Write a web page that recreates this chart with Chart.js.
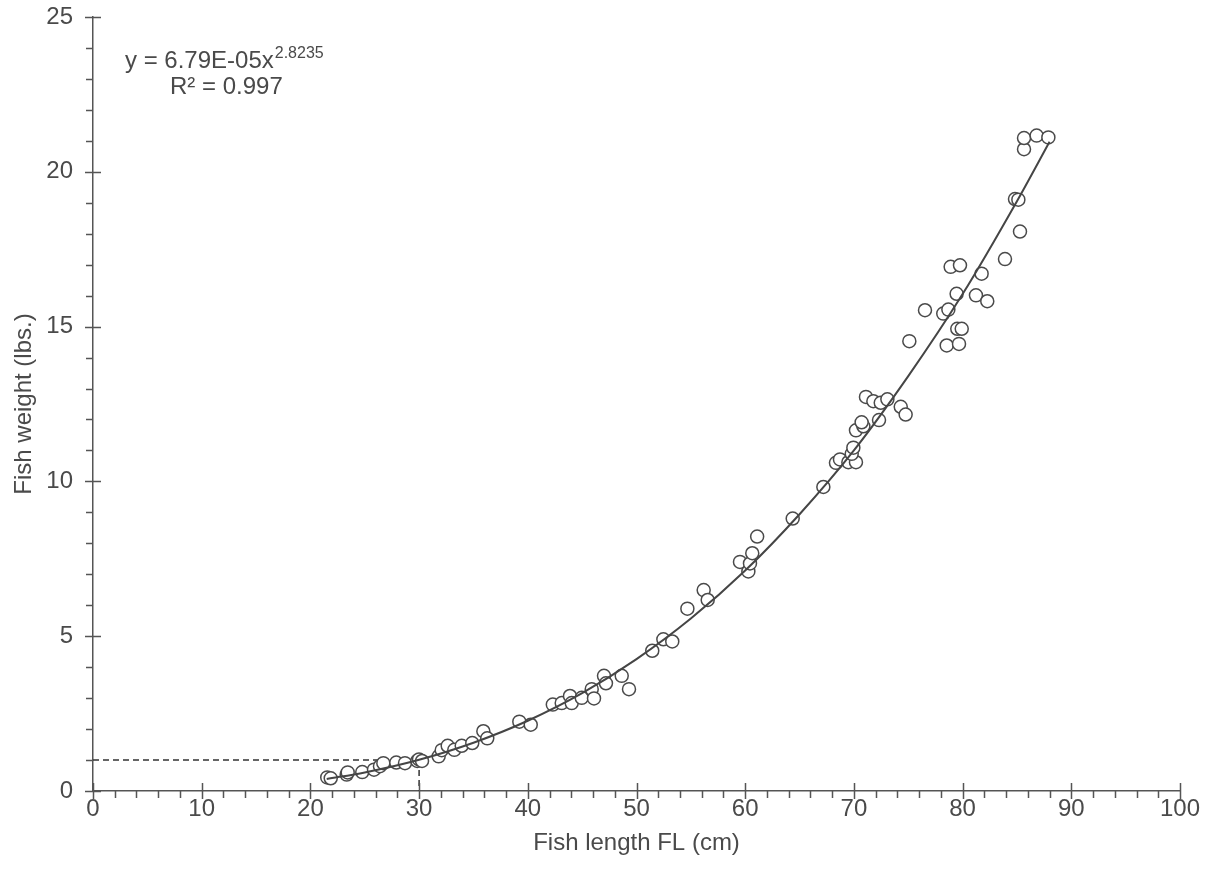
<!DOCTYPE html>
<html>
<head>
<meta charset="utf-8">
<script src="https://cdn.jsdelivr.net/npm/chart.js@4/dist/chart.umd.min.js"></script>
<style>
  html, body { margin: 0; padding: 0; background: #ffffff; }
  #wrap { width: 1207px; height: 874px; position: relative; }
</style>
</head>
<body>
<div id="wrap"><canvas id="c" width="1207" height="874"></canvas></div>
<script>
// Observed fish: fork length (cm) and weight (lbs.)
const fishLength = [
  21.55, 21.87, 23.34, 23.43, 24.77, 25.85, 26.40, 26.71, 27.90, 28.70,
  29.83, 29.99, 30.27, 31.80, 32.08, 32.63, 33.24, 33.92, 34.89, 35.91,
  36.27, 39.22, 40.27, 42.30, 43.12, 43.88, 44.04, 44.96, 45.88, 46.09,
  47.01, 47.19, 48.64, 49.31, 51.45, 52.47, 53.29, 54.68, 56.18, 56.55,
  59.52, 60.29, 60.44, 60.65, 61.10, 64.37, 67.19, 68.35, 68.72, 69.49,
  70.19, 69.80, 69.95, 70.19, 70.87, 70.71, 72.31, 71.11, 71.79, 72.47,
  73.08, 74.31, 74.76, 75.10, 76.54, 78.22, 78.69, 78.54, 78.90, 79.76,
  79.45, 79.51, 79.92, 79.67, 81.23, 81.75, 82.27, 83.90, 84.82, 85.13,
  85.28, 85.65, 85.65, 86.81, 87.89
];
const fishWeight = [
  0.44, 0.41, 0.53, 0.60, 0.61, 0.69, 0.80, 0.90, 0.92, 0.90,
  0.97, 1.02, 0.97, 1.12, 1.32, 1.46, 1.33, 1.46, 1.55, 1.93,
  1.70, 2.24, 2.14, 2.79, 2.84, 3.07, 2.84, 3.01, 3.29, 2.99,
  3.72, 3.48, 3.72, 3.29, 4.53, 4.90, 4.83, 5.89, 6.49, 6.17,
  7.40, 7.09, 7.35, 7.68, 8.22, 8.80, 9.82, 10.60, 10.71, 10.62,
  10.62, 10.89, 11.09, 11.65, 11.78, 11.91, 11.98, 12.73, 12.59, 12.54,
  12.65, 12.41, 12.16, 14.53, 15.53, 15.42, 15.55, 14.39, 16.93, 16.98,
  16.06, 14.93, 14.93, 14.44, 16.01, 16.71, 15.82, 17.18, 19.12, 19.10,
  18.07, 20.73, 21.09, 21.17, 21.11
];

// Fitted trend curve
const trendLength = [21.5, 25, 30, 35, 40, 45, 50, 55, 60, 65, 70, 75, 80, 85, 88];
const trendWeight = [0.39, 0.60, 1.01, 1.56, 2.27, 3.16, 4.26, 5.57, 7.12, 8.94, 11.0, 13.4, 16.05, 19.05, 20.97];

// Reference (dashed) guide: 30 cm -> 1 lb
const guideLength = 30;
const guideWeight = 1;

// Axis ranges and ticks
const xMin = 0, xMax = 100, xMajor = 10, xMinor = 2;
const yMin = 0, yMax = 25, yMajor = 5, yMinor = 1;

const equationText = 'y = 6.79E-05x';
const equationExp = '2.8235';
const r2Text = 'R\u00B2 = 0.997';

const FONT = '"Liberation Sans", Arial, sans-serif';
const TEXT = '#4a4a4a';
const AXIS = '#555555';

const scatterData = fishLength.map((x, i) => ({ x: x, y: fishWeight[i] }));
const trendData = trendLength.map((x, i) => ({ x: x, y: trendWeight[i] }));

const tickPlugin = {
  id: 'axisTicks',
  afterDraw(chart) {
    const ctx = chart.ctx;
    const xs = chart.scales.x, ys = chart.scales.y;
    const axisY = ys.getPixelForValue(yMin);
    const axisX = xs.getPixelForValue(xMin);
    ctx.save();
    ctx.strokeStyle = AXIS;
    ctx.lineWidth = 1.5;
    ctx.beginPath();
    for (let v = xMin; v <= xMax + 1e-9; v += xMinor) {
      const px = Math.round(xs.getPixelForValue(v)) + 0.5;
      const major = Math.abs(v / xMajor - Math.round(v / xMajor)) < 1e-6;
      if (major) { ctx.moveTo(px, axisY - 8); ctx.lineTo(px, axisY + 8); }
      else { ctx.moveTo(px, axisY); ctx.lineTo(px, axisY + 7); }
    }
    for (let v = yMin; v <= yMax + 1e-9; v += yMinor) {
      const py = Math.round(ys.getPixelForValue(v)) + 0.5;
      const major = Math.abs(v / yMajor - Math.round(v / yMajor)) < 1e-6;
      if (major) { ctx.moveTo(axisX - 8, py); ctx.lineTo(axisX + 8, py); }
      else { ctx.moveTo(axisX - 7, py); ctx.lineTo(axisX, py); }
    }
    ctx.stroke();

    // equation annotation
    ctx.fillStyle = TEXT;
    ctx.textBaseline = 'alphabetic';
    ctx.textAlign = 'left';
    ctx.font = '24px ' + FONT;
    const ex = 125, ey = 68;
    ctx.fillText(equationText, ex, ey);
    const w = ctx.measureText(equationText).width;
    ctx.font = '16px ' + FONT;
    ctx.fillText(equationExp, ex + w + 1, ey - 10);
    ctx.font = '24px ' + FONT;
    ctx.fillText(r2Text, 170, 94);
    ctx.restore();
  }
};

new Chart(document.getElementById('c'), {
  type: 'scatter',
  data: {
    datasets: [
      {
        label: 'trend',
        type: 'line',
        data: trendData,
        borderColor: '#454545',
        borderWidth: 2,
        pointRadius: 0,
        fill: false,
        cubicInterpolationMode: 'monotone',
        order: 0
      },
      {
        label: 'fish',
        data: scatterData,
        pointStyle: 'circle',
        pointRadius: 6.5,
        pointBorderWidth: 1.5,
        pointBorderColor: '#4a4a4a',
        pointBackgroundColor: '#ffffff',
        order: 1
      },
      {
        label: 'guideH',
        type: 'line',
        data: [{ x: xMin, y: guideWeight }, { x: guideLength, y: guideWeight }],
        borderColor: '#333333',
        borderWidth: 1.5,
        borderDash: [6, 4],
        pointRadius: 0,
        fill: false,
        order: 2
      },
      {
        label: 'guideV',
        type: 'line',
        data: [{ x: guideLength, y: guideWeight }, { x: guideLength, y: yMin }],
        borderColor: '#333333',
        borderWidth: 1.5,
        borderDash: [6, 4],
        pointRadius: 0,
        fill: false,
        order: 2
      }
    ]
  },
  options: {
    responsive: false,
    animation: false,
    devicePixelRatio: 1,
    layout: { padding: { top: 17, right: 27, left: 0, bottom: 0 } },
    plugins: { legend: { display: false }, tooltip: { enabled: false } },
    scales: {
      x: {
        type: 'linear',
        min: xMin, max: xMax,
        afterFit(s) { s.height = 83; s.paddingLeft = 0; s.paddingRight = 0; },
        border: { display: true, color: AXIS, width: 1.5 },
        grid: { display: false, drawTicks: false },
        ticks: { stepSize: xMajor, padding: 4, color: TEXT, font: { family: FONT, size: 24 } },
        title: { display: true, text: 'Fish length FL (cm)', color: TEXT, font: { family: FONT, size: 24 }, padding: { top: 0, bottom: 16 } }
      },
      y: {
        type: 'linear',
        min: yMin, max: yMax,
        afterFit(s) { s.width = 93; s.paddingTop = 0; s.paddingBottom = 0; },
        border: { display: true, color: AXIS, width: 1.5 },
        grid: { display: false, drawTicks: false },
        ticks: { stepSize: yMajor, padding: 20, color: TEXT, font: { family: FONT, size: 24 } },
        title: { display: true, text: 'Fish weight (lbs.)', color: TEXT, font: { family: FONT, size: 24 }, padding: { top: 10, bottom: 0 } }
      }
    }
  },
  plugins: [tickPlugin]
});
</script>
</body>
</html>
